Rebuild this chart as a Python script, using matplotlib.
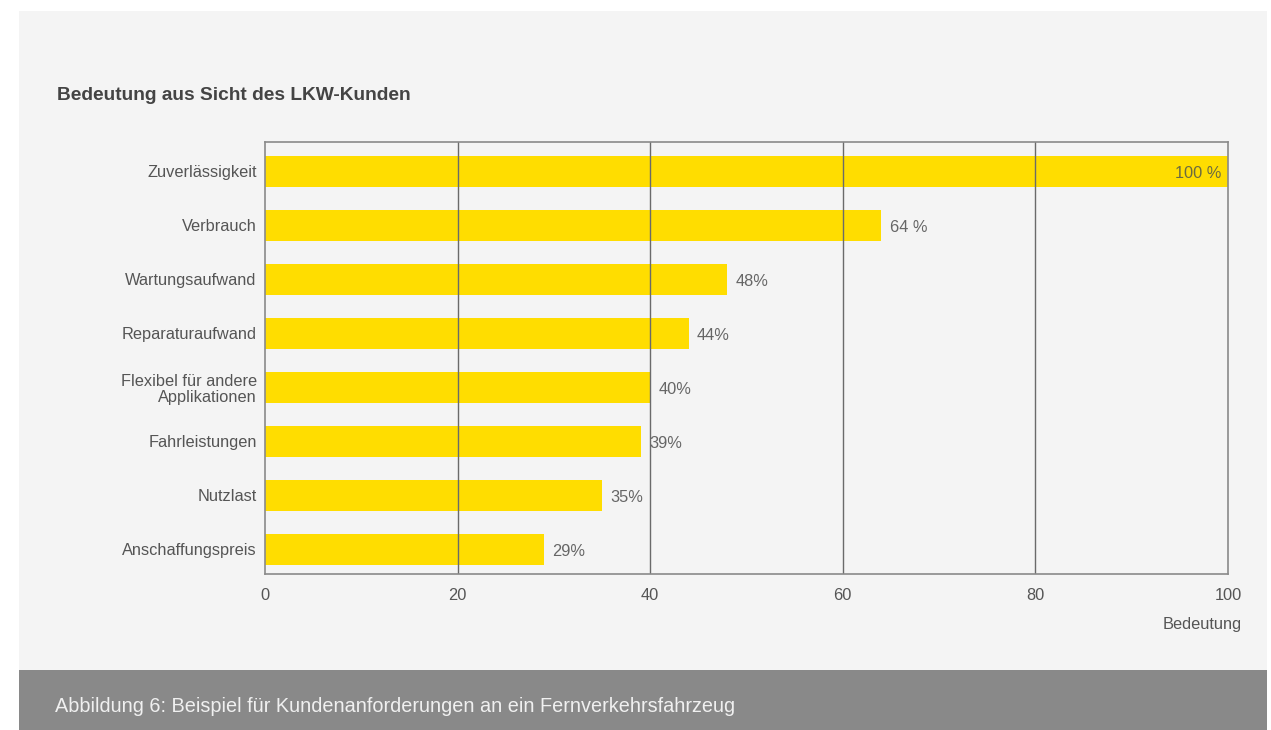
import matplotlib.pyplot as plt
from matplotlib.patches import Rectangle

plt.rcParams["font.family"] = ["Liberation Sans", "DejaVu Sans"]

kategorien = ["Zuverlässigkeit", "Verbrauch", "Wartungsaufwand", "Reparaturaufwand",
              "Flexibel für andere\nApplikationen", "Fahrleistungen", "Nutzlast",
              "Anschaffungspreis"]
werte = [100, 64, 48, 44, 40, 39, 35, 29]
beschriftung = ["100 %", "64 %", "48%", "44%", "40%", "39%", "35%", "29%"]
xticks = [0, 20, 40, 60, 80, 100]

W, H = 1271, 730
fig = plt.figure(figsize=(W / 100, H / 100), dpi=100)
fig.patch.set_facecolor("white")

# hellgrauer Hintergrund und graue Fusszeile
fig.add_artist(Rectangle((19 / W, (H - 670) / H), (1267 - 19) / W, (670 - 11) / H,
                         transform=fig.transFigure, facecolor="#f4f4f4", edgecolor="none", zorder=0))
fig.add_artist(Rectangle((19 / W, 0), (1267 - 19) / W, (H - 670) / H,
                         transform=fig.transFigure, facecolor="#898989", edgecolor="none", zorder=0))

ax = fig.add_axes([265 / W, (H - 574) / H, (1228 - 265) / W, (574 - 142) / H])
ax.set_facecolor("#f4f4f4")

pos = list(range(len(kategorien)))
ax.barh(pos, werte, height=0.57, color="#ffdd00", zorder=2)
ax.set_ylim(len(kategorien) - 0.5 - 0.04, -0.5 - 0.04)
ax.set_xlim(0, 100)
ax.set_xticks(xticks)
ax.set_yticks(pos)
ax.set_yticklabels(kategorien, fontsize=11.8, color="#555555", linespacing=1.1)
ax.set_xticklabels([str(t) for t in xticks], fontsize=11.8, color="#555555")
ax.tick_params(axis="y", length=0, pad=6)
ax.tick_params(axis="x", length=0, pad=10)

for x in xticks[1:-1]:
    ax.axvline(x, color="#6a6a6a", lw=1.0, zorder=3)

for s in ax.spines.values():
    s.set_color("#8a8a8a")
    s.set_linewidth(1.2)
    s.set_zorder(4)

for i, (v, t) in enumerate(zip(werte, beschriftung)):
    if v >= 100:
        ax.annotate(t, (v, i), xytext=(-5, -1.5), textcoords="offset points",
                    ha="right", va="center", fontsize=11.8, color="#6b6b40", zorder=5)
    else:
        ax.annotate(t, (v, i), xytext=(6, -1.5), textcoords="offset points",
                    ha="left", va="center", fontsize=11.8, color="#666666", zorder=5)

fig.text(57 / W, 1 - 96 / H, "Bedeutung aus Sicht des LKW-Kunden", fontsize=13.8,
         fontweight="bold", color="#444444", va="center", ha="left")
fig.text(1242 / W, 1 - 624 / H, "Bedeutung", fontsize=11.8, color="#555555",
         va="center", ha="right")
fig.text(55 / W, 1 - 706 / H, "Abbildung 6: Beispiel für Kundenanforderungen an ein Fernverkehrsfahrzeug",
         fontsize=14.3, color="#f0f0f0", va="center", ha="left")

fig.savefig("out.png", dpi=100)
